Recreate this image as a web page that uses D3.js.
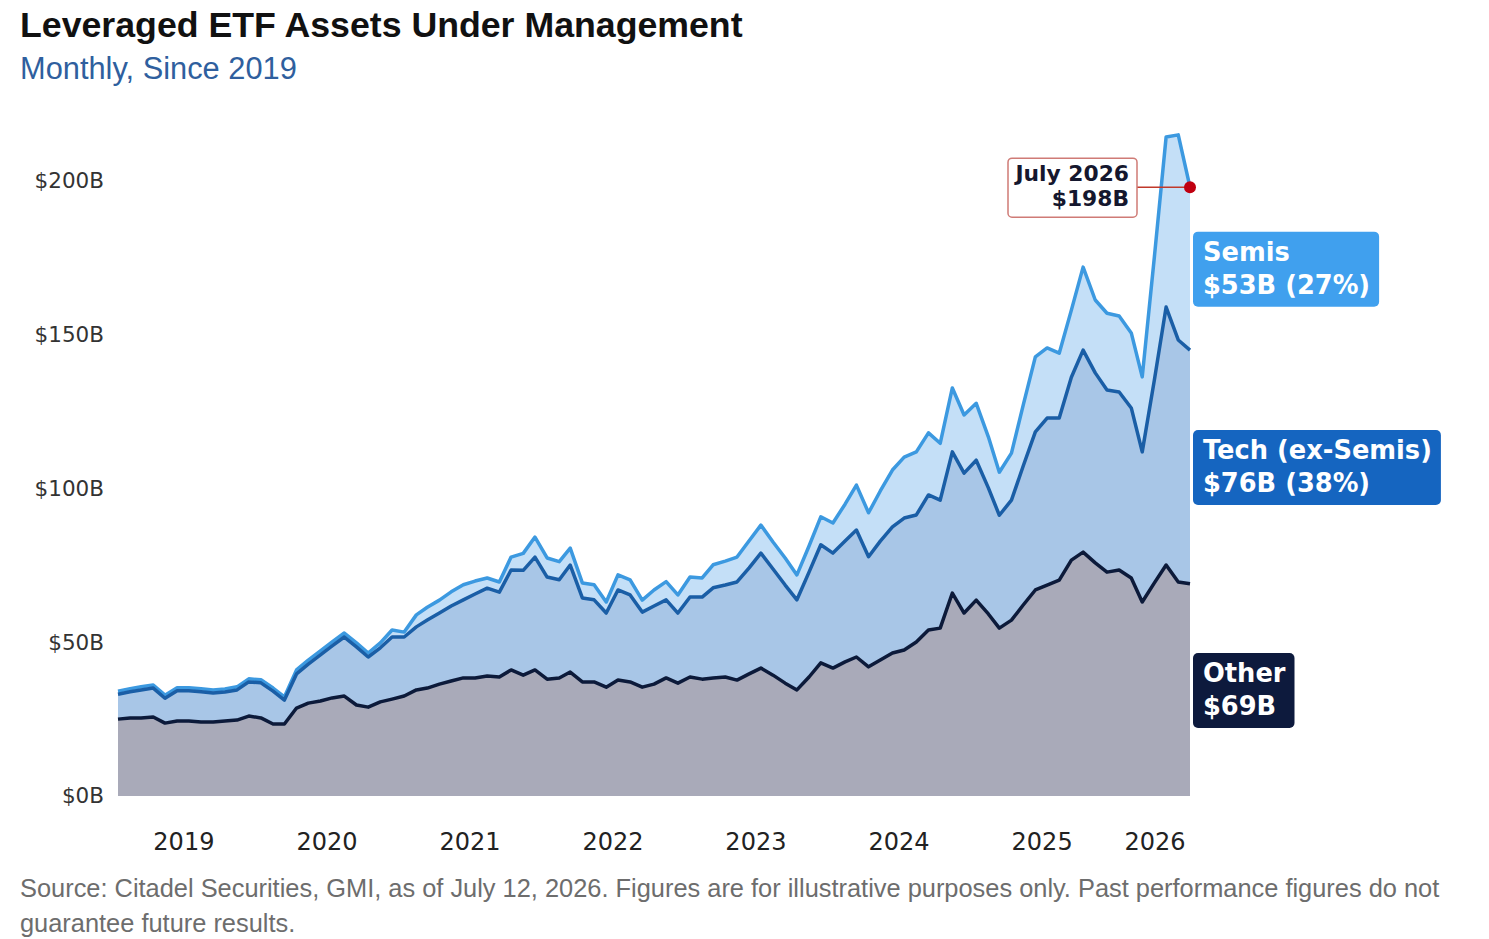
<!DOCTYPE html>
<html>
<head>
<meta charset="utf-8">
<script src="https://cdn.jsdelivr.net/npm/d3@7"></script>
<style>
  body { margin: 0; background: #fff; }
  svg { display: block; }
</style>
</head>
<body>
<div id="chart"></div>
<script>
// Monthly points, Jan 2019 .. Jul 2026 (values in $B)
const months = d3.timeMonth.range(new Date(2019, 0, 1), new Date(2026, 7, 1));

const otherValues = [
  25.0, 25.4, 25.4, 25.7, 23.7, 24.4, 24.4, 24.1, 24.1, 24.4,
  24.7, 26.0, 25.4, 23.4, 23.4, 28.6, 30.2, 30.9, 31.9, 32.5,
  29.6, 28.9, 30.6, 31.5, 32.5, 34.5, 35.1, 36.4, 37.4, 38.4,
  38.4, 39.0, 38.7, 41.0, 39.3, 41.0, 38.0, 38.4, 40.3, 37.1,
  37.1, 35.4, 37.7, 37.1, 35.4, 36.4, 38.4, 36.7, 38.7, 38.0,
  38.4, 38.7, 37.7, 39.7, 41.6, 39.3, 36.7, 34.5, 38.7, 43.3,
  41.6, 43.6, 45.2, 42.0, 44.2, 46.5, 47.5, 50.1, 54.0, 54.6,
  66.0, 59.5, 63.7, 59.2, 54.6, 57.2, 62.1, 67.0, 68.6, 70.2,
  76.7, 79.3, 75.8, 72.8, 73.5, 70.9, 63.1, 69.3, 75.1, 69.6,
  69.0
];

const techValues = [
  8.1, 8.5, 9.1, 9.4, 8.1, 9.8, 9.8, 9.8, 9.4, 9.4,
  9.8, 11.1, 11.4, 10.7, 7.8, 11.1, 12.7, 15.0, 16.9, 19.2,
  18.9, 16.3, 17.6, 20.2, 19.2, 20.5, 22.1, 23.1, 24.4, 25.4,
  27.3, 28.6, 27.6, 32.5, 34.1, 36.7, 33.2, 31.9, 34.8, 27.3,
  26.7, 24.1, 29.3, 28.3, 24.4, 25.4, 25.4, 22.8, 26.0, 26.7,
  29.3, 29.9, 31.9, 34.5, 37.4, 34.5, 31.9, 29.3, 34.1, 38.4,
  37.4, 39.3, 41.3, 35.8, 38.7, 41.0, 42.9, 41.3, 43.9, 41.6,
  45.9, 45.5, 45.5, 41.0, 36.7, 39.0, 45.2, 51.4, 54.3, 52.7,
  59.5, 65.7, 61.8, 59.2, 57.9, 55.3, 48.8, 66.0, 83.9, 78.7,
  76.0
];

const semisValues = [
  1.0, 1.0, 1.0, 1.0, 1.0, 1.0, 1.0, 1.0, 1.0, 1.0,
  1.0, 1.0, 1.0, 1.0, 1.0, 1.3, 1.3, 1.3, 1.3, 1.3,
  1.3, 1.3, 1.6, 2.3, 1.6, 3.9, 4.2, 4.2, 4.6, 4.9,
  4.2, 3.3, 3.3, 4.2, 5.5, 6.5, 6.2, 5.9, 5.5, 4.9,
  4.9, 3.6, 4.9, 4.9, 3.9, 5.2, 5.9, 5.9, 6.5, 6.2,
  7.5, 7.8, 8.1, 8.8, 9.1, 8.8, 8.8, 8.1, 8.5, 9.1,
  9.8, 12.0, 14.6, 14.3, 16.3, 18.5, 19.8, 20.5, 20.2, 18.5,
  20.8, 18.9, 18.5, 16.6, 14.0, 15.3, 19.8, 24.4, 22.8, 21.1,
  21.8, 27.0, 23.7, 25.0, 24.7, 24.4, 24.4, 40.0, 55.3, 66.7,
  53.0
];

const yTicks = [0, 50, 100, 150, 200];
const years = [2019, 2020, 2021, 2022, 2023, 2024, 2025, 2026];

const seriesKeys = ["other", "tech", "semis"];
const seriesNames = { other: "Other", tech: "Tech (ex-Semis)", semis: "Semis" };
const areaColors = { other: "#a9aab9", tech: "#a8c6e7", semis: "#c4dff7" };
const lineColors = { other: "#0c1a3a", tech: "#1a5ea6", semis: "#3c99e0" };
const boxColors = { other: "#0d1a3d", tech: "#1565c0", semis: "#40a0ee" };

const width = 1489, height = 939;
const plot = { left: 118, right: 1190, top: 0, bottom: 796 };

const data = months.map((m, i) => ({
  date: m, other: otherValues[i], tech: techValues[i], semis: semisValues[i]
}));

const svg = d3.select("#chart").append("svg")
  .attr("width", width)
  .attr("height", height)
  .style("background-color", "#ffffff");

const x = d3.scaleTime()
  .domain(d3.extent(months))
  .range([plot.left, plot.right]);

// $0B at 796, $200B at 181
const y = d3.scaleLinear()
  .domain([0, 200])
  .range([plot.bottom, 181]);

const stacked = d3.stack().keys(seriesKeys)(data);

const area = d3.area()
  .x(d => x(d.data.date))
  .y0(d => y(d[0]))
  .y1(d => y(d[1]));

const line = d3.line()
  .x(d => x(d.data.date))
  .y(d => y(d[1]));

// Title and subtitle
svg.append("text")
  .attr("x", 20).attr("y", 37)
  .attr("font-family", "'Liberation Sans', Arial, sans-serif")
  .attr("font-size", "35.7px")
  .attr("font-weight", "bold")
  .attr("fill", "#111")
  .text("Leveraged ETF Assets Under Management");

svg.append("text")
  .attr("x", 20).attr("y", 79)
  .attr("font-family", "'Liberation Sans', Arial, sans-serif")
  .attr("font-size", "30.8px")
  .attr("fill", "#2f5f9e")
  .text("Monthly, Since 2019");

// Stacked areas
svg.append("g").selectAll("path.area")
  .data(stacked)
  .enter()
  .append("path")
  .attr("class", "area")
  .attr("d", area)
  .attr("fill", d => areaColors[d.key]);

// Series lines (top edge of each layer)
svg.append("g").selectAll("path.line")
  .data(stacked.slice().reverse())
  .enter()
  .append("path")
  .attr("class", "line")
  .attr("d", line)
  .attr("fill", "none")
  .attr("stroke", d => lineColors[d.key])
  .attr("stroke-width", 3.5)
  .attr("stroke-linejoin", "round");

// Y axis
const yAxis = svg.append("g")
  .attr("transform", `translate(${plot.left},0)`)
  .call(d3.axisLeft(y).tickValues(yTicks).tickSize(0).tickPadding(14)
    .tickFormat(d => `$${d}B`));
yAxis.select(".domain").remove();
yAxis.selectAll("text")
  .attr("font-family", "'DejaVu Sans', sans-serif")
  .attr("font-size", "21.5px")
  .attr("fill", "#333");

// X axis: year label centred on that year's months
const yearMid = years.map(yr => {
  const ms = months.filter(m => m.getFullYear() === yr);
  return new Date((+ms[0] + +ms[ms.length - 1]) / 2);
});
const xAxis = svg.append("g")
  .attr("transform", `translate(0,${plot.bottom})`)
  .call(d3.axisBottom(x).tickValues(yearMid).tickSize(0).tickPadding(37)
    .tickFormat(d3.timeFormat("%Y")));
xAxis.select(".domain").remove();
xAxis.selectAll("text")
  .attr("font-family", "'DejaVu Sans', sans-serif")
  .attr("font-size", "24px")
  .attr("fill", "#222");

// End-point annotation
const last = stacked[2][stacked[2].length - 1];
const lastDate = last.data.date;
const total = last[1];
const ax = x(lastDate), ay = y(total);

svg.append("line")
  .attr("x1", 1137).attr("x2", ax)
  .attr("y1", ay).attr("y2", ay)
  .attr("stroke", "#c0392b")
  .attr("stroke-width", 1.5);

const annot = svg.append("g");
annot.append("rect")
  .attr("x", 1008).attr("y", ay - 29)
  .attr("width", 129).attr("height", 59)
  .attr("rx", 4)
  .attr("fill", "#fff")
  .attr("stroke", "#cf7b76")
  .attr("stroke-width", 1.5);
annot.selectAll("text")
  .data(["July 2026", `$${Math.round(total)}B`])
  .enter()
  .append("text")
  .attr("x", 1129)
  .attr("y", (d, i) => ay - 6 + i * 25)
  .attr("text-anchor", "end")
  .attr("font-family", "'DejaVu Sans', sans-serif")
  .attr("font-size", "21.8px")
  .attr("font-weight", "bold")
  .attr("fill", "#15172e")
  .text(d => d);

svg.append("circle")
  .attr("cx", ax).attr("cy", ay)
  .attr("r", 6)
  .attr("fill", "#c00010");

// Right-hand series labels, centred on each band at the last month
stacked.forEach(layer => {
  const p = layer[layer.length - 1];
  const val = p[1] - p[0];
  const cy = (y(p[0]) + y(p[1])) / 2;
  const lines = [seriesNames[layer.key],
    layer.key === "other" ? `$${Math.round(val)}B`
      : `$${Math.round(val)}B (${Math.round(val / total * 100)}%)`];

  const g = svg.append("g");
  const rect = g.append("rect")
    .attr("x", 1193).attr("y", cy - 37)
    .attr("height", 75)
    .attr("rx", 5)
    .attr("fill", boxColors[layer.key]);
  const texts = g.selectAll("text")
    .data(lines)
    .enter()
    .append("text")
    .attr("x", 1203)
    .attr("y", (d, i) => cy - 8 + i * 33)
    .attr("font-family", "'DejaVu Sans', sans-serif")
    .attr("font-size", "25.7px")
    .attr("font-weight", "bold")
    .attr("fill", "#fff")
    .text(d => d);
  const w = d3.max(texts.nodes(), n => n.getComputedTextLength());
  rect.attr("width", w + 19);
});

// Footnote
svg.append("g").selectAll("text")
  .data([
    "Source: Citadel Securities, GMI, as of July 12, 2026. Figures are for illustrative purposes only. Past performance figures do not",
    "guarantee future results."
  ])
  .enter()
  .append("text")
  .attr("x", 20)
  .attr("y", (d, i) => 897 + i * 35)
  .attr("font-family", "'Liberation Sans', Arial, sans-serif")
  .attr("font-size", "25.4px")
  .attr("fill", "#6d6d6d")
  .text(d => d);
</script>
</body>
</html>
